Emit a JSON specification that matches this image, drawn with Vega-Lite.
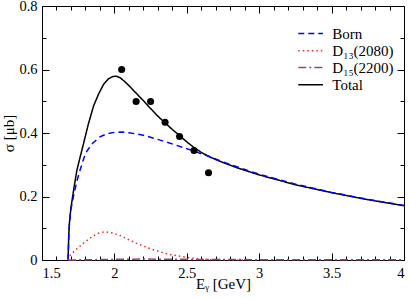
{
 "$schema": "https://vega.github.io/schema/vega-lite/v6.json",
 "width": 362, "height": 254,
 "autosize": {"type": "none"},
 "padding": {"left": 42, "top": 6, "right": 5, "bottom": 39},
 "config": {
  "view": {"stroke": "black", "strokeWidth": 1},
  "axis": {"domain": false, "grid": false, "tickColor": "black", "tickWidth": 1}
 },
 "datasets": {
  "curves": [
   {"series": "Total", "E": 1.68, "s": 0},
   {"series": "Total", "E": 1.685, "s": 0.08},
   {"series": "Total", "E": 1.69, "s": 0.12},
   {"series": "Total", "E": 1.70, "s": 0.165},
   {"series": "Total", "E": 1.72, "s": 0.225},
   {"series": "Total", "E": 1.741, "s": 0.283},
   {"series": "Total", "E": 1.76, "s": 0.318},
   {"series": "Total", "E": 1.787, "s": 0.367},
   {"series": "Total", "E": 1.82, "s": 0.428},
   {"series": "Total", "E": 1.856, "s": 0.485},
   {"series": "Total", "E": 1.89, "s": 0.522},
   {"series": "Total", "E": 1.925, "s": 0.553},
   {"series": "Total", "E": 1.96, "s": 0.571},
   {"series": "Total", "E": 1.99, "s": 0.578},
   {"series": "Total", "E": 2.012, "s": 0.579},
   {"series": "Total", "E": 2.04, "s": 0.574},
   {"series": "Total", "E": 2.086, "s": 0.556},
   {"series": "Total", "E": 2.13, "s": 0.535},
   {"series": "Total", "E": 2.17, "s": 0.516},
   {"series": "Total", "E": 2.20, "s": 0.502},
   {"series": "Total", "E": 2.25, "s": 0.477},
   {"series": "Total", "E": 2.30, "s": 0.453},
   {"series": "Total", "E": 2.35, "s": 0.432},
   {"series": "Total", "E": 2.40, "s": 0.411},
   {"series": "Total", "E": 2.45, "s": 0.392},
   {"series": "Total", "E": 2.50, "s": 0.372},
   {"series": "Total", "E": 2.55, "s": 0.354},
   {"series": "Total", "E": 2.60, "s": 0.339},
   {"series": "Total", "E": 2.66, "s": 0.324},
   {"series": "Total", "E": 2.75, "s": 0.307},
   {"series": "Total", "E": 2.85, "s": 0.29},
   {"series": "Total", "E": 3.0, "s": 0.268},
   {"series": "Total", "E": 3.25, "s": 0.237},
   {"series": "Total", "E": 3.5, "s": 0.212},
   {"series": "Total", "E": 3.75, "s": 0.19},
   {"series": "Total", "E": 4.0, "s": 0.171},
   {"series": "Born", "E": 1.68, "s": 0},
   {"series": "Born", "E": 1.685, "s": 0.08},
   {"series": "Born", "E": 1.69, "s": 0.12},
   {"series": "Born", "E": 1.70, "s": 0.16},
   {"series": "Born", "E": 1.72, "s": 0.207},
   {"series": "Born", "E": 1.74, "s": 0.247},
   {"series": "Born", "E": 1.764, "s": 0.285},
   {"series": "Born", "E": 1.79, "s": 0.322},
   {"series": "Born", "E": 1.81, "s": 0.343},
   {"series": "Born", "E": 1.85, "s": 0.368},
   {"series": "Born", "E": 1.90, "s": 0.388},
   {"series": "Born", "E": 1.95, "s": 0.398},
   {"series": "Born", "E": 2.00, "s": 0.402},
   {"series": "Born", "E": 2.05, "s": 0.403},
   {"series": "Born", "E": 2.10, "s": 0.401},
   {"series": "Born", "E": 2.20, "s": 0.393},
   {"series": "Born", "E": 2.30, "s": 0.38},
   {"series": "Born", "E": 2.43, "s": 0.361},
   {"series": "Born", "E": 2.55, "s": 0.343},
   {"series": "Born", "E": 2.66, "s": 0.325},
   {"series": "Born", "E": 2.75, "s": 0.309},
   {"series": "Born", "E": 2.85, "s": 0.293},
   {"series": "Born", "E": 3.0, "s": 0.27},
   {"series": "Born", "E": 3.25, "s": 0.239},
   {"series": "Born", "E": 3.5, "s": 0.213},
   {"series": "Born", "E": 3.75, "s": 0.191},
   {"series": "Born", "E": 4.0, "s": 0.172},
   {"series": "D13", "E": 1.68, "s": 0},
   {"series": "D13", "E": 1.695, "s": 0.015},
   {"series": "D13", "E": 1.74, "s": 0.035},
   {"series": "D13", "E": 1.787, "s": 0.053},
   {"series": "D13", "E": 1.85, "s": 0.075},
   {"series": "D13", "E": 1.90, "s": 0.086},
   {"series": "D13", "E": 1.94, "s": 0.089},
   {"series": "D13", "E": 1.99, "s": 0.085},
   {"series": "D13", "E": 2.04, "s": 0.077},
   {"series": "D13", "E": 2.09, "s": 0.066},
   {"series": "D13", "E": 2.15, "s": 0.053},
   {"series": "D13", "E": 2.25, "s": 0.035},
   {"series": "D13", "E": 2.35, "s": 0.021},
   {"series": "D13", "E": 2.41, "s": 0.015},
   {"series": "D13", "E": 2.5, "s": 0.008},
   {"series": "D13", "E": 2.57, "s": 0.004},
   {"series": "D13", "E": 2.65, "s": 0.002},
   {"series": "D13", "E": 2.75, "s": 0.001},
   {"series": "D13", "E": 2.9, "s": 0},
   {"series": "D15", "E": 1.68, "s": 0},
   {"series": "D15", "E": 2.0, "s": 0.002},
   {"series": "D15", "E": 2.2, "s": 0.003},
   {"series": "D15", "E": 2.5, "s": 0.002},
   {"series": "D15", "E": 3.0, "s": 0.001},
   {"series": "D15", "E": 4.0, "s": 0.001}
  ],
  "points": [
   {"E": 2.05, "s": 0.600},
   {"E": 2.15, "s": 0.499},
   {"E": 2.25, "s": 0.499},
   {"E": 2.35, "s": 0.434},
   {"E": 2.45, "s": 0.389},
   {"E": 2.55, "s": 0.345},
   {"E": 2.65, "s": 0.275}
  ],
  "legend": [
   {"series": "Born", "x1": 3.27, "x2": 3.44, "y": 0.713, "label": "Born"},
   {"series": "D13", "x1": 3.27, "x2": 3.44, "y": 0.659, "label": "D₁₃(2080)"},
   {"series": "D15", "x1": 3.27, "x2": 3.44, "y": 0.606, "label": "D₁₅(2200)"},
   {"series": "Total", "x1": 3.27, "x2": 3.44, "y": 0.552, "label": "Total"}
  ]
 },
 "layer": [
  {
   "data": {"name": "curves"},
   "mark": {"type": "line", "strokeWidth": 1.5},
   "encoding": {
    "x": {"field": "E", "type": "quantitative",
     "scale": {"domain": [1.5, 4], "nice": false, "zero": false},
     "axis": {"orient": "bottom", "values": [1.5, 2, 2.5, 3, 3.5, 4], "tickSize": -7, "labelPadding": 13, "labelExpr": "'' + datum.value",
      "labelFont": "Liberation Serif", "labelFontSize": 14.5, "labelColor": "black", "labelBaseline": "top",
      "title": "Eᵧ [GeV]", "titleFont": "Liberation Serif", "titleFontSize": 15, "titleFontWeight": "normal", "titleColor": "black", "titlePadding": -3}},
    "y": {"field": "s", "type": "quantitative",
     "scale": {"domain": [0, 0.8], "nice": false},
     "axis": {"orient": "left", "values": [0, 0.2, 0.4, 0.6, 0.8], "tickSize": -7, "labelPadding": 12, "labelExpr": "'' + datum.value",
      "labelFont": "Liberation Serif", "labelFontSize": 14.5, "labelColor": "black",
      "title": "σ [μb]", "titleFont": "Liberation Serif", "titleFontSize": 15, "titleFontWeight": "normal", "titleColor": "black", "titlePadding": 2}},
    "color": {"field": "series", "type": "nominal", "legend": null,
     "scale": {"domain": ["Born", "D13", "D15", "Total"], "range": ["#0000ff", "#ff2020", "#94457f", "#000000"]}},
    "strokeDash": {"field": "series", "type": "nominal", "legend": null,
     "scale": {"domain": ["Born", "D13", "D15", "Total"], "range": [[6, 4], [1.5, 3], [8, 3, 2, 3], [1, 0]]}},
    "order": {"field": "E", "type": "quantitative"}
   }
  },
  {
   "data": {"name": "points"},
   "mark": {"type": "circle", "size": 50, "color": "black", "opacity": 1},
   "encoding": {
    "x": {"field": "E", "type": "quantitative",
     "axis": {"orient": "bottom", "values": [1.6, 1.7, 1.8, 1.9, 2.1, 2.2, 2.3, 2.4, 2.6, 2.7, 2.8, 2.9, 3.1, 3.2, 3.3, 3.4, 3.6, 3.7, 3.8, 3.9], "tickSize": -4, "labels": false, "title": null}},
    "y": {"field": "s", "type": "quantitative",
     "axis": {"orient": "left", "values": [0.1, 0.3, 0.5, 0.7], "tickSize": -4, "labels": false, "title": null}}
   }
  },
  {
   "data": {"name": "legend"},
   "mark": {"type": "rule", "strokeWidth": 1.5},
   "encoding": {
    "x": {"field": "x1", "type": "quantitative",
     "axis": {"orient": "top", "values": [1.5, 2, 2.5, 3, 3.5, 4], "tickSize": -7, "labels": false, "title": null}},
    "x2": {"field": "x2"},
    "y": {"field": "y", "type": "quantitative",
     "axis": {"orient": "right", "values": [0, 0.2, 0.4, 0.6, 0.8], "tickSize": -7, "labels": false, "title": null}},
    "color": {"field": "series", "type": "nominal", "legend": null},
    "strokeDash": {"field": "series", "type": "nominal", "legend": null}
   }
  },
  {
   "data": {"name": "legend"},
   "mark": {"type": "text", "align": "left", "baseline": "middle", "font": "Liberation Serif", "fontSize": 15, "color": "black"},
   "encoding": {
    "x": {"datum": 3.505, "type": "quantitative",
     "axis": {"orient": "top", "values": [1.6, 1.7, 1.8, 1.9, 2.1, 2.2, 2.3, 2.4, 2.6, 2.7, 2.8, 2.9, 3.1, 3.2, 3.3, 3.4, 3.6, 3.7, 3.8, 3.9], "tickSize": -4, "labels": false, "title": null}},
    "y": {"field": "y", "type": "quantitative",
     "axis": {"orient": "right", "values": [0.1, 0.3, 0.5, 0.7], "tickSize": -4, "labels": false, "title": null}},
    "text": {"field": "label"}
   }
  }
 ],
 "resolve": {"axis": {"x": "independent", "y": "independent"}}
}
